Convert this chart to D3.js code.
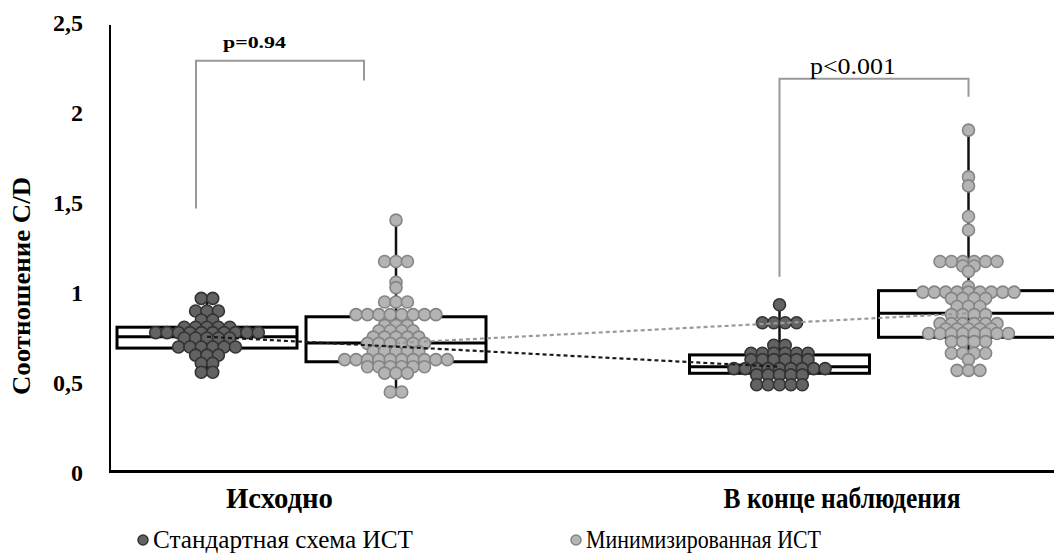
<!DOCTYPE html>
<html>
<head>
<meta charset="utf-8">
<script src="https://cdn.jsdelivr.net/npm/d3@7"></script>
<style>
  body { margin: 0; background: #fff; }
  svg { display: block; }
  text { font-family: "Liberation Serif", "Times New Roman", serif; fill: #000; }
</style>
</head>
<body>
<svg id="chart" width="1054" height="554"></svg>
<script>
// categories and series
const categories = ["Исходно", "В конце наблюдения"];
const seriesNames = ["Стандартная схема ИСТ", "Минимизированная ИСТ"];

// individual C/D values
const stdStart = [0.97, 0.97, 0.90, 0.90, 0.90, 0.85, 0.85,
  0.81, 0.81, 0.81, 0.81, 0.81,
  0.78, 0.78, 0.78, 0.78, 0.78, 0.78, 0.78, 0.78, 0.78, 0.78,
  0.75, 0.75, 0.75, 0.75, 0.75,
  0.70, 0.70, 0.70, 0.70, 0.70, 0.70,
  0.655, 0.655, 0.655, 0.61, 0.61, 0.56, 0.56];
const minStart = [1.405, 1.175, 1.175, 1.175, 1.06, 1.03, 0.95, 0.95, 0.95,
  0.88, 0.88, 0.88, 0.88, 0.88, 0.88, 0.88, 0.88,
  0.82, 0.82, 0.82, 0.79, 0.79, 0.79, 0.79,
  0.755, 0.755, 0.755, 0.755, 0.755,
  0.72, 0.72, 0.72, 0.72, 0.72, 0.72,
  0.675, 0.675, 0.675, 0.675, 0.675,
  0.63, 0.63, 0.63, 0.63, 0.63, 0.63, 0.63, 0.63, 0.63, 0.63,
  0.59, 0.59, 0.59, 0.59, 0.59, 0.59,
  0.555, 0.555, 0.555, 0.45, 0.45];
const stdEnd = [0.935, 0.835, 0.835, 0.835, 0.835, 0.71, 0.71,
  0.665, 0.665, 0.665, 0.665, 0.665, 0.665,
  0.63, 0.63, 0.63, 0.63, 0.63, 0.63,
  0.58, 0.58, 0.58, 0.58, 0.58, 0.58, 0.58, 0.58, 0.58,
  0.545, 0.545, 0.545, 0.545, 0.545,
  0.49, 0.49, 0.49, 0.49, 0.49];
const minEnd = [1.905, 1.645, 1.595, 1.425, 1.35,
  1.175, 1.175, 1.175, 1.175, 1.175, 1.175, 1.15, 1.15, 1.12, 1.035,
  1.005, 1.005, 1.005, 1.005, 1.005, 1.005, 1.005, 1.005, 1.005,
  0.97, 0.97, 0.97, 0.97, 0.925, 0.925, 0.925,
  0.88, 0.88, 0.88, 0.88,
  0.83, 0.83, 0.83, 0.83, 0.83, 0.83,
  0.80, 0.80, 0.80, 0.80, 0.80,
  0.775, 0.775, 0.775, 0.775, 0.775, 0.775, 0.775, 0.775,
  0.73, 0.73, 0.73, 0.73, 0.665, 0.665, 0.665, 0.665,
  0.63, 0.57, 0.57, 0.57];
const groupValues = [[stdStart, minStart], [stdEnd, minEnd]]; // [category][series]

// box statistics [category][series]
const q1 = [[0.694, 0.618], [0.554, 0.754]];
const medians = [[0.757, 0.722], [0.59, 0.887]];
const q3 = [[0.81, 0.868], [0.656, 1.013]];

const yTicks = [0, 0.5, 1, 1.5, 2, 2.5];
const yTickLabels = ["0", "0,5", "1", "1,5", "2", "2,5"];
const pLabels = ["p=0.94", "p<0.001"];
// bracket levels: [top, left leg end, right leg end]
const bracketLevels = [[2.29, 1.47, 2.18], [2.19, 1.09, 2.09]];

const svg = d3.select("#chart");
const fills = ["#626262", "#b4b4b4"];
const strokes = ["#333333", "#858585"];

const y = d3.scaleLinear().domain([0, 2.5]).range([473, 23]);
const x = d3.scalePoint().domain(categories).range([301.5, 874]);
const xs = d3.scalePoint().domain(seriesNames).range([-94.5, 94.5]);
const boxW = 180, dotGap = 11.4, dotR = 6;

// axes
svg.append("line").attr("x1", 110).attr("x2", 110).attr("y1", 25).attr("y2", 472)
  .attr("stroke", "#000").attr("stroke-width", 2);
svg.append("line").attr("x1", 109).attr("x2", 1054).attr("y1", 471.5).attr("y2", 471.5)
  .attr("stroke", "#000").attr("stroke-width", 3);

svg.selectAll(".ytick").data(yTicks).join("text")
  .attr("class", "ytick")
  .attr("x", 83).attr("y", d => y(d)).attr("dy", "0.35em")
  .attr("text-anchor", "end").attr("font-weight", "bold").attr("font-size", 24)
  .text((d, i) => yTickLabels[i]);

svg.append("text")
  .attr("transform", "translate(30,286) rotate(-90)")
  .attr("text-anchor", "middle").attr("font-weight", "bold").attr("font-size", 25)
  .attr("textLength", 218).attr("lengthAdjust", "spacingAndGlyphs")
  .text("Соотношение C/D");

// category labels
const catShift = [-22, -32], catLen = [107, 237];
svg.selectAll(".cat").data(categories).join("text")
  .attr("class", "cat")
  .attr("x", (d, i) => x(d) + catShift[i]).attr("y", 508)
  .attr("text-anchor", "middle").attr("font-weight", "bold").attr("font-size", 30)
  .attr("textLength", (d, i) => catLen[i]).attr("lengthAdjust", "spacingAndGlyphs")
  .text(d => d);

// whiskers + boxes
const boxes = [];
categories.forEach((c, ci) => seriesNames.forEach((s, si) => {
  const ext = d3.extent(groupValues[ci][si]);
  boxes.push({ cx: x(c) + xs(s), ci, si, min: ext[0], max: ext[1],
    q1: q1[ci][si], med: medians[ci][si], q3: q3[ci][si] });
}));

svg.selectAll(".whisker").data(boxes).join("line")
  .attr("x1", d => d.cx).attr("x2", d => d.cx)
  .attr("y1", d => y(d.max)).attr("y2", d => y(d.min))
  .attr("stroke", "#111").attr("stroke-width", 2.5);

svg.selectAll(".box").data(boxes).join("rect")
  .attr("x", d => d.cx - boxW / 2).attr("width", boxW)
  .attr("y", d => y(d.q3)).attr("height", d => y(d.q1) - y(d.q3))
  .attr("fill", "none").attr("stroke", "#000").attr("stroke-width", 3);

svg.selectAll(".med").data(boxes).join("line")
  .attr("x1", d => d.cx - boxW / 2).attr("x2", d => d.cx + boxW / 2)
  .attr("y1", d => y(d.med)).attr("y2", d => y(d.med))
  .attr("stroke", "#000").attr("stroke-width", 3);

// dot rows: equal values share a row, centred on the group
function swarm(values, cx) {
  const out = [];
  d3.groups(values, v => v).forEach(([v, arr]) => {
    const n = arr.length;
    arr.forEach((_, i) => out.push({ x: cx + (i - (n - 1) / 2) * dotGap, y: y(v) }));
  });
  return out;
}

boxes.forEach(b => {
  svg.append("g").selectAll("circle").data(swarm(groupValues[b.ci][b.si], b.cx)).join("circle")
    .attr("cx", d => d.x).attr("cy", d => d.y).attr("r", dotR)
    .attr("fill", fills[b.si]).attr("stroke", strokes[b.si]).attr("stroke-width", 1.6);
});

// dashed lines linking medians of each series
seriesNames.forEach((s, si) => {
  const pts = categories.map((c, ci) => [x(c) + xs(s), y(medians[ci][si])]);
  svg.append("path").attr("d", d3.line()(pts))
    .attr("fill", "none").attr("stroke", si === 0 ? "#1a1a1a" : "#9a9a9a")
    .attr("stroke-width", 2.2).attr("stroke-dasharray", "4,3");
});

// significance brackets
const bracketX = [[-11, -32], [0, 0]];
categories.forEach((c, ci) => {
  const xl = x(c) + xs(seriesNames[0]) + bracketX[ci][0];
  const xr = x(c) + xs(seriesNames[1]) + bracketX[ci][1];
  const lv = bracketLevels[ci];
  svg.append("path")
    .attr("d", d3.line()([[xl, y(lv[1])], [xl, y(lv[0])], [xr, y(lv[0])], [xr, y(lv[2])]]))
    .attr("fill", "none").attr("stroke", "#999").attr("stroke-width", 2);
});

svg.append("text").attr("x", 254.5).attr("y", 47.5)
  .attr("text-anchor", "middle").attr("font-weight", "bold").attr("font-size", 17)
  .attr("textLength", 63).attr("lengthAdjust", "spacingAndGlyphs")
  .text(pLabels[0]);
svg.append("text").attr("x", 853).attr("y", 73.5)
  .attr("text-anchor", "middle").attr("font-size", 24)
  .attr("textLength", 86).attr("lengthAdjust", "spacingAndGlyphs")
  .text(pLabels[1]);

// legend
const legX = [143, 576], legLen = [260, 235];
seriesNames.forEach((s, si) => {
  svg.append("circle").attr("cx", legX[si]).attr("cy", 540).attr("r", 5)
    .attr("fill", fills[si]).attr("stroke", strokes[si]).attr("stroke-width", 1.5);
  svg.append("text").attr("x", legX[si] + 10).attr("y", 548)
    .attr("font-size", 25)
    .attr("textLength", legLen[si]).attr("lengthAdjust", "spacingAndGlyphs")
    .text(s);
});
</script>
</body>
</html>
